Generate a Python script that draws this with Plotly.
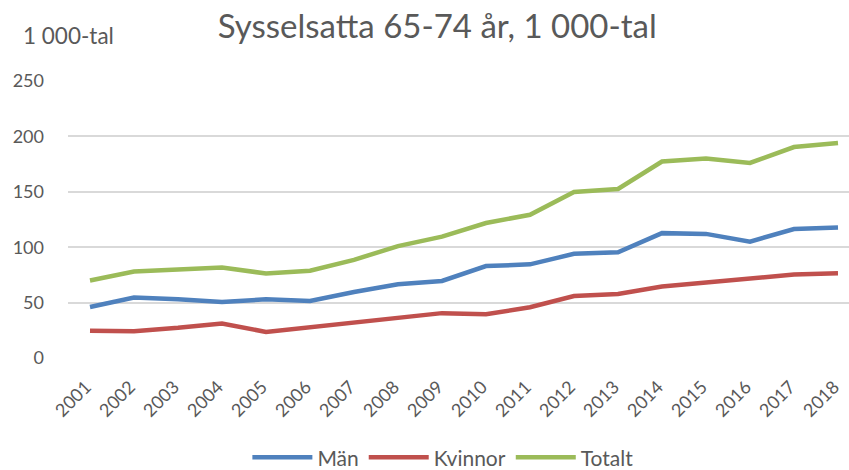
import plotly.graph_objects as go

years = [str(y) for y in range(2001, 2019)]
man = [46, 54.5, 53, 50.6, 53, 51.5, 59.5, 66.5, 69.5, 83, 84.5, 94, 95.5, 112.7, 112, 105, 116.4, 117.8]
kvinnor = [24.7, 24.1, 27.2, 31.2, 23.5, 27.8, 31.8, 35.5, 40.5, 39.5, 45.8, 56, 57.8, 64.5, 68, 71.5, 75.3, 76.5]
totalt = [70, 78, 79.9, 81.6, 76.3, 78.7, 88.6, 101, 109.5, 121.8, 129.3, 149.8, 152.6, 177.3, 180, 176, 190.4, 194]

series = [("Män", man, "#4F81BD"), ("Kvinnor", kvinnor, "#C0504D"), ("Totalt", totalt, "#9BBB59")]

font_family = "Lato, Noto Sans, sans-serif"
grey = "#595959"

fig = go.Figure()
for name, vals, col in series:
    fig.add_trace(go.Scatter(x=list(range(len(years))), y=vals, name=name, mode="lines",
                             line=dict(color=col, width=4.5)))

fig.update_layout(
    width=849, height=470,
    margin=dict(l=68, r=0, t=81, b=112, autoexpand=False),
    plot_bgcolor="white", paper_bgcolor="white",
    font=dict(family=font_family, color=grey, size=18),
    title=dict(text="Sysselsatta 65-74 år, 1 000-tal", x=0.515, xanchor="center", y=0.943,
               yanchor="middle", font=dict(size=33, color=grey)),
    legend=dict(orientation="h", x=0.48, xanchor="center", y=-0.36, yanchor="middle",
                font=dict(size=21, color=grey), itemwidth=60),
    showlegend=True,
)
fig.update_xaxes(range=[-0.5, 17.25], tickvals=list(range(len(years))), ticktext=years,
                 tickangle=-45, showgrid=False, zeroline=False, showline=False,
                 automargin=False, ticklabelstandoff=14, ticklabelshift=-4,
                 tickfont=dict(size=18, color=grey))
fig.update_yaxes(range=[0, 250], dtick=50, showgrid=True, gridcolor="#D9D9D9", gridwidth=1.5,
                 zeroline=False, showline=False, ticks="", ticklabelstandoff=23,
                 automargin=False, tickfont=dict(size=18, color=grey))
fig.add_annotation(text="1 000-tal", xref="paper", yref="paper", x=-0.06, y=1.163,
                   xanchor="left", yanchor="middle", showarrow=False,
                   font=dict(size=22.5, color=grey))

# page body has an 8px default margin, drop it so the chart fills the window
fig.write_html("out.html", config={"displayModeBar": False},
               post_script="document.body.style.margin='0';")
